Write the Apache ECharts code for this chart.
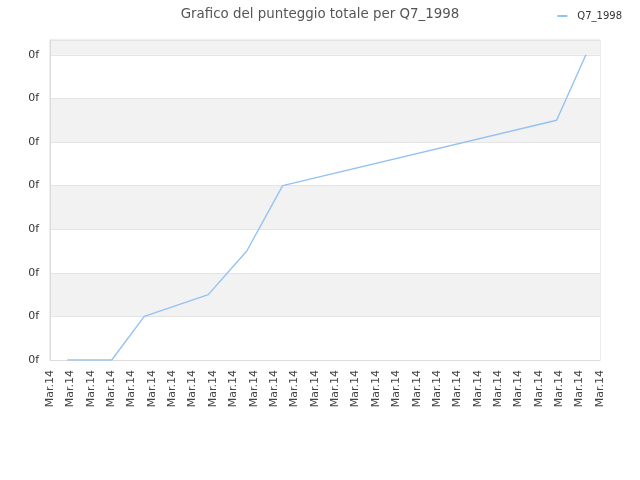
<!DOCTYPE html>
<html>
<head>
<meta charset="utf-8">
<script src="https://cdn.jsdelivr.net/npm/echarts@6/dist/echarts.min.js"></script>
<style>
  html, body { margin: 0; padding: 0; background: #fff; }
  #main { width: 640px; height: 480px; }
</style>
</head>
<body>
<div id="main"></div>
<script>
  // x positions (in label slots) and scores
  let xValues = [0.85, 3.03, 4.63, 7.77, 9.66, 11.42, 24.87, 26.31]
  let yValues = [0, 0, 1, 1.5, 2.5, 4, 5.5, 7]
  let xTickLabel = 'Mar.14'
  let yTickLabel = '0f'
  let seriesName = 'Q7_1998'

  let points = xValues.map(function (x, i) {
    return [x, yValues[i]]
  })

  let myChart = echarts.init(document.getElementById('main'))
  let option = {
    animation: false,
    textStyle: {
      fontFamily: 'DejaVu Sans'
    },
    title: {
      text: 'Grafico del punteggio totale per ' + seriesName,
      left: 'center',
      top: 3,
      textStyle: {
        fontSize: 13.4,
        fontWeight: 'normal',
        color: '#555'
      }
    },
    legend: {
      right: 13,
      top: 6,
      itemWidth: 10,
      itemHeight: 2,
      textStyle: {
        fontSize: 10,
        color: '#333',
        padding: [0, 0, 0, 5]
      },
      data: [{ name: seriesName, icon: 'rect' }]
    },
    grid: {
      left: 50,
      right: 40,
      top: 40,
      bottom: 120,
      show: true,
      borderColor: '#dcdcdc',
      borderWidth: 1,
      containLabel: false
    },
    xAxis: {
      type: 'value',
      min: 0,
      max: 27,
      interval: 1,
      axisLine: { show: true, lineStyle: { color: '#dcdcdc' } },
      axisTick: { show: false },
      splitLine: { show: false },
      axisLabel: {
        rotate: 90,
        fontSize: 11,
        color: '#444',
        margin: 10,
        formatter: function () {
          return xTickLabel
        }
      }
    },
    yAxis: {
      type: 'value',
      min: 0,
      max: 7.34,
      interval: 1,
      axisLine: { show: true, lineStyle: { color: '#dcdcdc' } },
      axisTick: { show: false },
      splitLine: { show: true, lineStyle: { color: '#e4e4e4' } },
      splitArea: {
        show: true,
        areaStyle: { color: ['#ffffff', '#f2f2f2'] }
      },
      axisLabel: {
        fontSize: 11,
        color: '#333',
        margin: 11,
        showMaxLabel: false,
        formatter: function () {
          return yTickLabel
        }
      }
    },
    series: [
      {
        name: seriesName,
        type: 'line',
        data: points,
        symbol: 'none',
        color: '#94c2f2',
        lineStyle: {
          width: 1.4,
          color: '#94c2f2'
        }
      }
    ]
  }
  myChart.setOption(option)
</script>
</body>
</html>
